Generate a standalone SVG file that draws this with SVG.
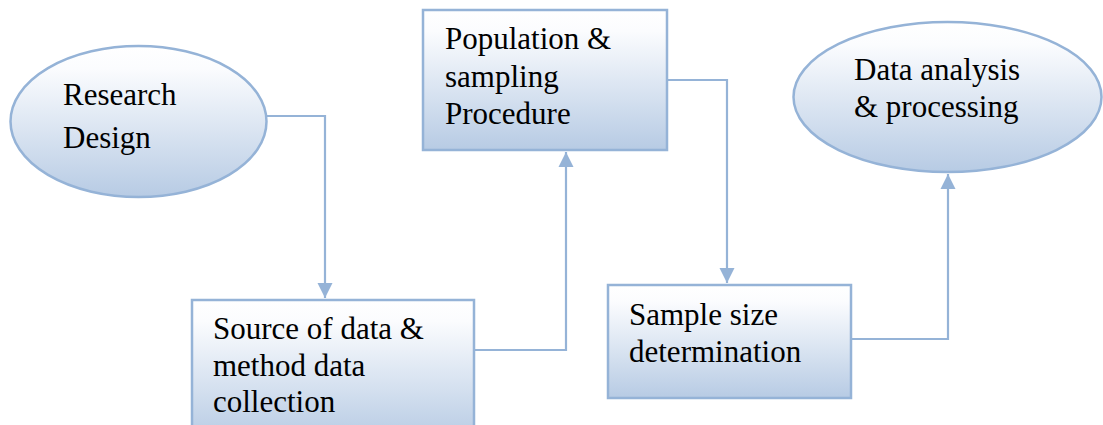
<svg xmlns="http://www.w3.org/2000/svg" width="1103" height="425" viewBox="0 0 1103 425">
<style>
.shape{fill:url(#g);stroke:#95B3D7;stroke-width:2.5}
.lbl{font-family:'Liberation Serif',serif;font-size:31px;fill:#000}
.conn{fill:none;stroke:#95B3D7;stroke-width:2.2}
</style>
<defs>
<linearGradient id="g" x1="0" y1="0" x2="0" y2="1">
<stop offset="0" stop-color="#FFFFFF"/>
<stop offset="0.15" stop-color="#FBFCFE"/>
<stop offset="1" stop-color="#B7CBE4"/>
</linearGradient>
<marker id="arr" viewBox="0 0 10 10" refX="10" refY="5" markerWidth="7" markerHeight="7" orient="auto" markerUnits="strokeWidth">
<path d="M0,0 L10,5 L0,10 Z" fill="#95B3D7"/>
</marker>
</defs>
<g id="connectors">
<polyline class="conn" points="267,116 325,116 325,298" marker-end="url(#arr)"/>
<polyline class="conn" points="474,350 566,350 566,152" marker-end="url(#arr)"/>
<polyline class="conn" points="667,80 727,80 727,283" marker-end="url(#arr)"/>
<polyline class="conn" points="851,339 948,339 948,174" marker-end="url(#arr)"/>
</g>
<g id="research-design">
<ellipse class="shape" cx="138.5" cy="121.5" rx="128" ry="75.5"/>
<text class="lbl" x="63" y="105">Research</text>
<text class="lbl" x="63" y="148">Design</text>
</g>
<g id="source-of-data">
<rect class="shape" x="192" y="300" width="282" height="140"/>
<text class="lbl" x="213" y="339">Source of data &amp;</text>
<text class="lbl" x="213" y="376">method data</text>
<text class="lbl" x="213" y="412">collection</text>
</g>
<g id="population-sampling">
<rect class="shape" x="423" y="10" width="244" height="140"/>
<text class="lbl" x="445" y="49">Population &amp;</text>
<text class="lbl" x="445" y="87">sampling</text>
<text class="lbl" x="445" y="124">Procedure</text>
</g>
<g id="sample-size">
<rect class="shape" x="608" y="285" width="243" height="113"/>
<text class="lbl" x="629" y="325">Sample size</text>
<text class="lbl" x="629" y="362">determination</text>
</g>
<g id="data-analysis">
<ellipse class="shape" cx="947.5" cy="97" rx="154" ry="75"/>
<text class="lbl" x="854" y="80">Data analysis</text>
<text class="lbl" x="854" y="117">&amp; processing</text>
</g>
</svg>
